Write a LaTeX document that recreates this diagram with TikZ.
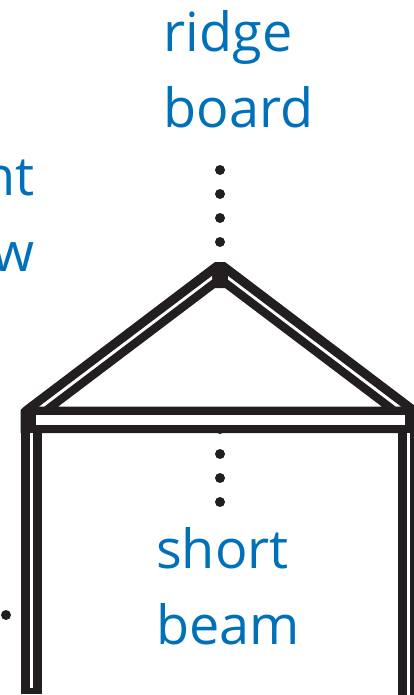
\documentclass[tikz,border=0pt]{standalone}
\usepackage{fontspec}
\setmainfont{Open Sans}
\usetikzlibrary{positioning}
\definecolor{labelblue}{RGB}{0,112,185}
\definecolor{timber}{RGB}{35,31,32}
\tikzset{
    callout/.style={text=labelblue,font=\fontsize{54}{76}\selectfont,inner sep=0pt,anchor=base west},
    leaderdot/.style={circle,fill=timber,minimum size=10pt,inner sep=0pt},
}

\begin{document}
\begin{tikzpicture}[x=1pt,y=-1pt]
    \clip (0,0) rectangle (414,695);
    \useasboundingbox (0,0) rectangle (414,695);

    % roof, beam and posts
    \fill[timber,even odd rule] (20.5,410) -- (24,406.7) -- (215,262) -- (225,262) -- (416,406.7) -- (416,433) -- (20.5,433) -- cycle
        (58,406.7) -- (215,288) -- (225,288) -- (382,406.7) -- cycle;
    \fill[timber] (20.5,410) rectangle (41.5,694);
    \fill[timber] (398,410) rectangle (416,695);

    % leader dots
    \foreach \n/\y in {1/170,2/194,3/218,4/242}
        \node[leaderdot] (ridge\n) at (220,\y) {};
    \foreach \n/\y in {1/429,2/454,3/478,4/502}
        \node[leaderdot] (short\n) at (220,\y) {};
    \node[leaderdot] (post1) at (6,615) {};
    \node[leaderdot] (post2) at (30,615) {};

    % white slots
    \fill[white] (35.7,415) rectangle (404.7,424.5);
    \fill[white] (29.5,433) rectangle (32.5,688);
    \fill[white] (407.3,433) rectangle (410,695);
    \fill[white] (39,406.7) -- (212,276) -- (212,279.5) -- (44,406.7) -- cycle;
    \fill[white] (228,276) -- (401,406.7) -- (396,406.7) -- (228,279.5) -- cycle;

    % labels
    \node[callout] (ridge) at (163.5,52) {ridge};
    \node[callout] (board) at (163.5,128) {board};
    \node[callout] (short) at (156,568) {short};
    \node[callout] (beam) at (156,644) {beam};
    \node[callout,anchor=base east] (front) at (35,195) {nt};
    \node[callout,anchor=base east] (view) at (35,271) {w};
\end{tikzpicture}
\end{document}
